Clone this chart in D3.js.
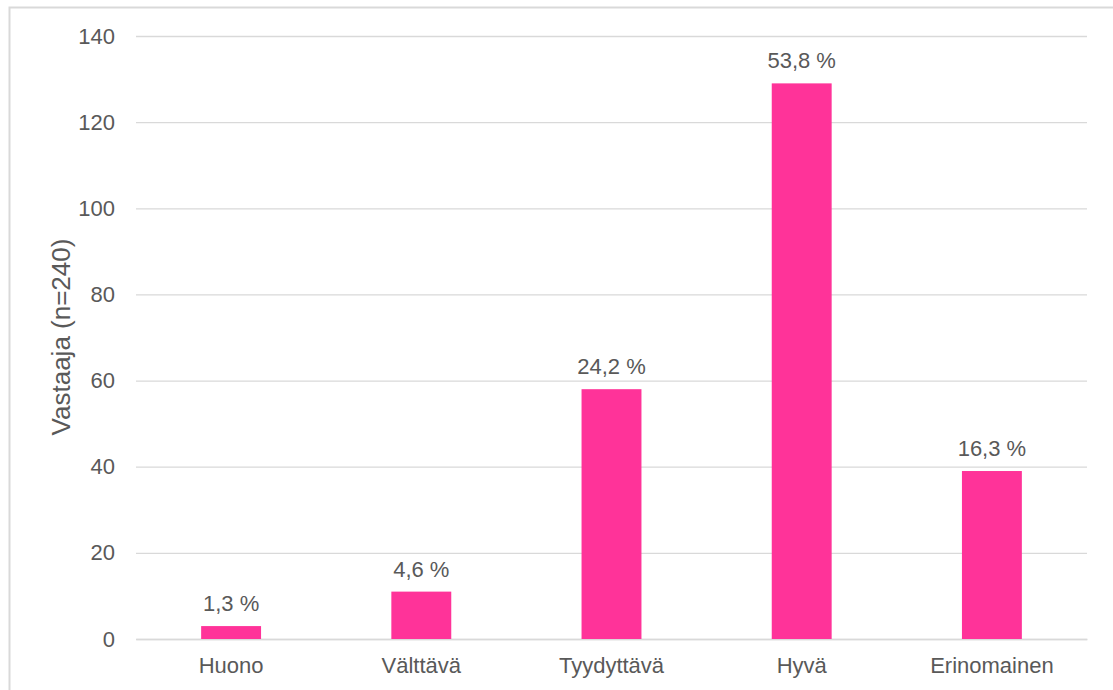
<!DOCTYPE html>
<html>
<head>
<meta charset="utf-8">
<script src="https://cdn.jsdelivr.net/npm/d3@7"></script>
<style>
  body { margin: 0; background: #fff; }
  svg text { font-family: "Liberation Sans", Arial, sans-serif; fill: #595959; }
</style>
</head>
<body>
<div id="chart"></div>
<script>
const categories = ['Huono', 'Välttävä', 'Tyydyttävä', 'Hyvä', 'Erinomainen'];
const counts = [3, 11, 58, 129, 39];
const percentLabels = ['1,3 %', '4,6 %', '24,2 %', '53,8 %', '16,3 %'];
const yTicks = [0, 20, 40, 60, 80, 100, 120, 140];

const W = 1113, H = 690;
const margin = { top: 36, right: 26, bottom: 51, left: 136 };
const width = W - margin.left - margin.right;
const height = H - margin.top - margin.bottom;
const fontSize = 22;

const svg = d3.select('#chart').append('svg')
  .attr('width', W)
  .attr('height', H);

// outer chart frame (clipped by the window on the right and bottom)
svg.append('rect')
  .attr('x', 9.5).attr('y', 7.5)
  .attr('width', W + 20).attr('height', H + 20)
  .attr('fill', 'none')
  .attr('stroke', '#d9d9d9')
  .attr('stroke-width', 2);

const g = svg.append('g')
  .attr('transform', `translate(${margin.left},${margin.top})`);

const x = d3.scaleBand()
  .domain(categories)
  .range([0, width])
  .paddingInner(0.685)
  .paddingOuter(0.3425);

const y = d3.scaleLinear()
  .domain([0, 140])
  .range([height, 0]);

// gridlines + y labels
const yAxis = g.append('g')
  .call(d3.axisLeft(y).tickValues(yTicks).tickSize(-width).tickPadding(21));
yAxis.select('.domain').remove();
yAxis.selectAll('.tick line').attr('stroke', '#d9d9d9').attr('stroke-width', 1.3);
yAxis.selectAll('.tick text').attr('font-size', fontSize).style('fill', '#595959');

// x axis
const xAxis = g.append('g')
  .attr('transform', `translate(0,${height})`)
  .call(d3.axisBottom(x).tickSize(0).tickPadding(18));
xAxis.select('.domain').attr('stroke', '#d9d9d9').attr('stroke-width', 1.5);
xAxis.selectAll('.tick text').attr('font-size', fontSize).style('fill', '#595959');

// bars
g.selectAll('.bar')
  .data(categories)
  .enter().append('rect')
  .attr('class', 'bar')
  .attr('x', d => x(d))
  .attr('y', (d, i) => y(counts[i]))
  .attr('width', x.bandwidth())
  .attr('height', (d, i) => height - y(counts[i]))
  .attr('fill', '#ff3399');

// data labels
g.selectAll('.label')
  .data(categories)
  .enter().append('text')
  .attr('class', 'label')
  .attr('x', d => x(d) + x.bandwidth() / 2)
  .attr('y', (d, i) => y(counts[i]) - 15)
  .attr('text-anchor', 'middle')
  .attr('font-size', fontSize)
  .text((d, i) => percentLabels[i]);

// y axis title
svg.append('text')
  .attr('transform', 'translate(70,337) rotate(-90)')
  .attr('text-anchor', 'middle')
  .attr('font-size', 26)
  .text('Vastaaja (n=240)');
</script>
</body>
</html>
